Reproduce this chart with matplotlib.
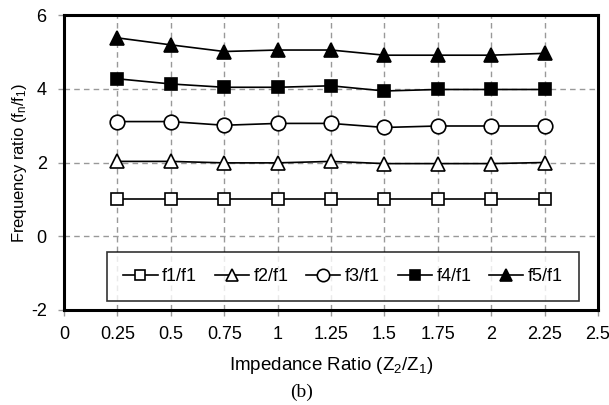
import matplotlib
matplotlib.use("Agg")
import matplotlib.pyplot as plt

x = [0.25, 0.5, 0.75, 1.0, 1.25, 1.5, 1.75, 2.0, 2.25]
f1 = [1.0, 1.0, 1.0, 1.0, 1.0, 1.0, 1.0, 1.0, 1.0]
f2 = [2.03, 2.03, 1.99, 1.99, 2.03, 1.97, 1.97, 1.97, 2.0]
f3 = [3.11, 3.11, 3.01, 3.06, 3.06, 2.95, 2.99, 2.99, 2.99]
f4 = [4.27, 4.13, 4.04, 4.04, 4.08, 3.94, 3.98, 3.98, 3.98]
f5 = [5.38, 5.19, 5.01, 5.05, 5.05, 4.91, 4.91, 4.91, 4.96]
labels = ["f1/f1", "f2/f1", "f3/f1", "f4/f1", "f5/f1"]
xticks = [0, 0.25, 0.5, 0.75, 1, 1.25, 1.5, 1.75, 2, 2.25, 2.5]
xticklabels = ["0", "0.25", "0.5", "0.75", "1", "1.25", "1.5", "1.75", "2", "2.25", "2.5"]
yticks = [-2, 0, 2, 4, 6]

plt.rcParams['font.family'] = ['Liberation Sans', 'DejaVu Sans']
plt.rcParams['mathtext.fontset'] = 'custom'
plt.rcParams['mathtext.rm'] = 'Liberation Sans'
plt.rcParams['mathtext.it'] = 'Liberation Sans'
fig = plt.figure(figsize=(6.09, 4.05), dpi=100)
ax = fig.add_axes([64/609, 1-310/405, 534/609, 295/405])

series = [f1, f2, f3, f4, f5]
styles = [
    dict(marker='s', mfc='white', ms=8.5),
    dict(marker='^', mfc='white', ms=9.5),
    dict(marker='o', mfc='white', ms=10.5),
    dict(marker='s', mfc='black', ms=8.5),
    dict(marker='^', mfc='black', ms=10.5),
]
for s, lab, st in zip(series, labels, styles):
    ax.plot(x, s, color='black', lw=1.2, mec='black', mew=1.2, label=lab, **st)

ax.set_xlim(0, 2.5)
ax.set_ylim(-2, 6)
ax.set_xticks(xticks)
ax.set_xticklabels(xticklabels, fontsize=13)
ax.set_yticks(yticks)
ax.set_yticklabels([str(v) for v in yticks], fontsize=13)
ax.grid(True, color='#999999', linestyle=(0, (4, 3)), lw=1)
ax.set_axisbelow(True)
ax.tick_params(direction='out', length=4.5, width=1, color='#999999')
ax.tick_params(axis='x', pad=7)
ax.tick_params(axis='y', pad=8)
for sp in ax.spines.values():
    sp.set_linewidth(2.2)
    sp.set_color('black')

ax.set_xlabel('Impedance Ratio (Z$_\\mathrm{2}$/Z$_\\mathrm{1}$)', fontsize=13.5, labelpad=9)
ax.set_ylabel('Frequency ratio (f$_\\mathrm{n}$/f$_\\mathrm{1}$)', fontsize=12, labelpad=1)

leg = ax.legend(loc='lower left', bbox_to_anchor=(0.0805, 0.03, 0.884, 0.167),
                mode='expand', ncol=5, fontsize=13, frameon=True, fancybox=False,
                edgecolor='black', handlelength=1.9, handletextpad=0.25,
                borderaxespad=0, columnspacing=1.0, markerscale=0.85,
                borderpad=0.9)
leg.get_frame().set_linewidth(1.2)

fig.text(302/609, 1 - 392/405, '(b)', ha='center', va='center',
         fontsize=14, family=['Liberation Serif', 'DejaVu Serif'])

fig.savefig('out.png', dpi=100)
